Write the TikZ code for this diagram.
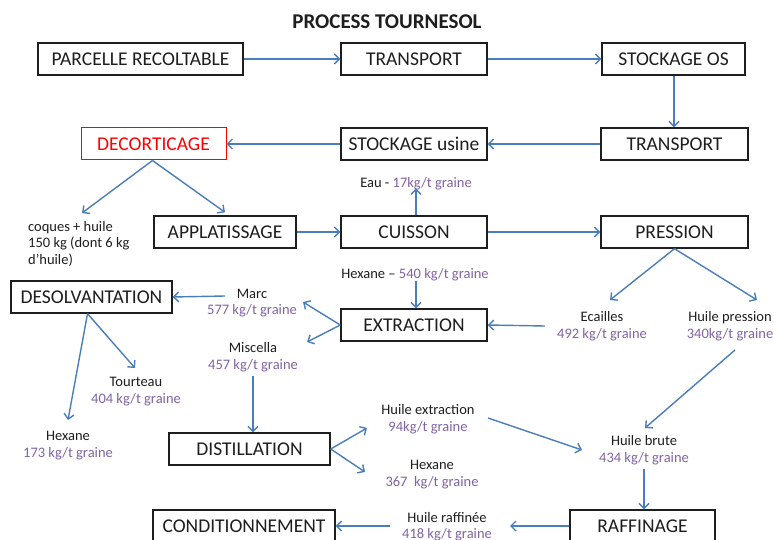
\documentclass[tikz,border=0pt]{standalone}
\usepackage{fontspec}
\setmainfont{Carlito}
\usetikzlibrary{arrows.meta}
\definecolor{arr}{RGB}{74,126,187}
\definecolor{purp}{RGB}{128,100,162}
\definecolor{txt}{RGB}{30,30,30}
\begin{document}
\begin{tikzpicture}[x=1pt,y=-1pt,
  box/.style={draw=txt,line width=1.4pt,minimum height=32pt,inner sep=0pt,
    font=\fontsize{19.5}{21}\selectfont,text=txt},
  lab/.style={align=center,inner sep=0pt,font=\fontsize{14.5}{16.5}\selectfont,text=txt},
  flow/.style={draw=arr,line width=1.4pt,-{Straight Barb[length=5pt,width=10pt]}}]
\useasboundingbox[fill=white] (0,0) rectangle (774,540);

% title
\node[font=\bfseries\fontsize{21}{23}\selectfont,text=txt] (title) at (387,22) {PROCESS TOURNESOL};

% boxes
\node[box,minimum width=205pt] (parc) at (140.5,59) {PARCELLE RECOLTABLE};
\node[box,minimum width=146pt] (tr1) at (414,59) {TRANSPORT};
\node[box,minimum width=143pt] (stos) at (673.5,59) {STOCKAGE OS};
\node[box,minimum width=147pt] (tr2) at (674.5,144) {TRANSPORT};
\node[box,minimum width=146pt] (stu) at (414,144) {STOCKAGE usine};
\node[box,minimum width=145pt,draw=red,text=red,line width=1pt] (dec) at (153.5,144) {DECORTICAGE};
\node[box,minimum width=142pt] (app) at (225,232) {APPLATISSAGE};
\node[box,minimum width=146pt] (cui) at (414,232) {CUISSON};
\node[box,minimum width=147pt] (pre) at (674.5,232) {PRESSION};
\node[box,minimum width=161pt] (des) at (91.5,297) {DESOLVANTATION};
\node[box,minimum width=146pt] (ext) at (414,325) {EXTRACTION};
\node[box,minimum width=161pt] (dis) at (249.5,449) {DISTILLATION};
\node[box,minimum width=182pt] (con) at (244,526) {CONDITIONNEMENT};
\node[box,minimum width=145pt] (raf) at (642.5,526) {RAFFINAGE};

% labels
\node[lab] (eau) at (416,184) {Eau - \textcolor{purp}{17kg/t graine}};
\node[lab,anchor=north west,align=left] (coq) at (28,221) {coques + huile\\150 kg (dont 6 kg\\d’huile)};
\node[lab] (hex1) at (415,275) {Hexane – \textcolor{purp}{540 kg/t graine}};
\node[lab] (marc) at (252,303) {Marc\\\textcolor{purp}{577 kg/t graine}};
\node[lab] (misc) at (253,357) {Miscella\\\textcolor{purp}{457 kg/t graine}};
\node[lab] (tour) at (136,391.5) {Tourteau\\\textcolor{purp}{404 kg/t graine}};
\node[lab] (hex2) at (68,445.5) {Hexane\\\textcolor{purp}{173 kg/t graine}};
\node[lab] (ecai) at (602,326) {Ecailles\\\textcolor{purp}{492 kg/t graine}};
\node[lab] (hpre) at (730,326) {Huile pression\\\textcolor{purp}{340kg/t graine}};
\node[lab] (hext) at (428,419) {Huile extraction\\\textcolor{purp}{94kg/t graine}};
\node[lab] (hex3) at (432,474.5) {Hexane\\\textcolor{purp}{367\ \ kg/t graine}};
\node[lab] (hbru) at (644,450) {Huile brute\\\textcolor{purp}{434 kg/t graine}};
\node[lab] (hraf) at (447,526.5) {Huile raffinée\\\textcolor{purp}{418 kg/t graine}};

% free ends
\coordinate (coqT) at (82,213);
\coordinate (ecaT) at (610,300);
\coordinate (hprT) at (757,300);
\coordinate (hprS) at (735,350);
\coordinate (hbrT) at (645,428);
\coordinate (marE) at (303,302);
\coordinate (misE) at (307,342);
\coordinate (marW) at (225,296);
\coordinate (tourT) at (135,368);
\coordinate (hex2T) at (68,420);
\coordinate (hextW) at (367,428);
\coordinate (hex3W) at (365,472);
\coordinate (hextE) at (488,418);
\coordinate (hbrW) at (582,450);
\coordinate (hrafE) at (510,526);
\coordinate (hrafW) at (390,526);

% connectors
\draw[flow] (parc) -- (tr1);
\draw[flow] (tr1) -- (stos);
\draw[flow] ([xshift=0.5pt]stos.south) -- ([xshift=0.5pt]stos.south |- tr2.north);
\draw[flow] (tr2) -- (stu);
\draw[flow] (stu) -- (dec);
\draw[flow] ([xshift=-1pt]dec.south) -- (coqT);
\draw[flow] ([xshift=-1pt]dec.south) -- ([yshift=3pt]app.north);
\draw[flow] (app) -- (cui);
\draw[flow] ([xshift=2pt]cui.north) -- ([xshift=2pt,yshift=2pt]cui.north |- eau.south);
\draw[flow] (cui) -- (pre);
\draw[flow] ([xshift=1pt]hex1.south) -- ([xshift=1pt]hex1.south |- ext.north);
\draw[flow] (pre.south) -- (ecaT);
\draw[flow] (pre.south) -- (hprT);
\draw[flow] ([xshift=-12pt]ecai.west) -- (ext.east);
\draw[flow] (hprS) -- (hbrT);
\draw[flow] (ext.west) -- (marE);
\draw[flow] (ext.west) -- (misE);
\draw[flow] (marW) -- (des.east);
\draw[flow] ([yshift=-4pt]misc.south) -- (misc.south |- dis.north);
\draw[flow] ([xshift=-4pt]des.south) -- (hex2T);
\draw[flow] ([xshift=-4pt]des.south) -- (tourT);
\draw[flow] (dis.east) -- (hextW);
\draw[flow] (dis.east) -- (hex3W);
\draw[flow] (hextE) -- (hbrW);
\draw[flow] ([yshift=-4pt]hbru.south) -- (hbru.south |- raf.north);
\draw[flow] (raf.west) -- (hrafE);
\draw[flow] (hrafW) -- (con.east);
\end{tikzpicture}
\end{document}
